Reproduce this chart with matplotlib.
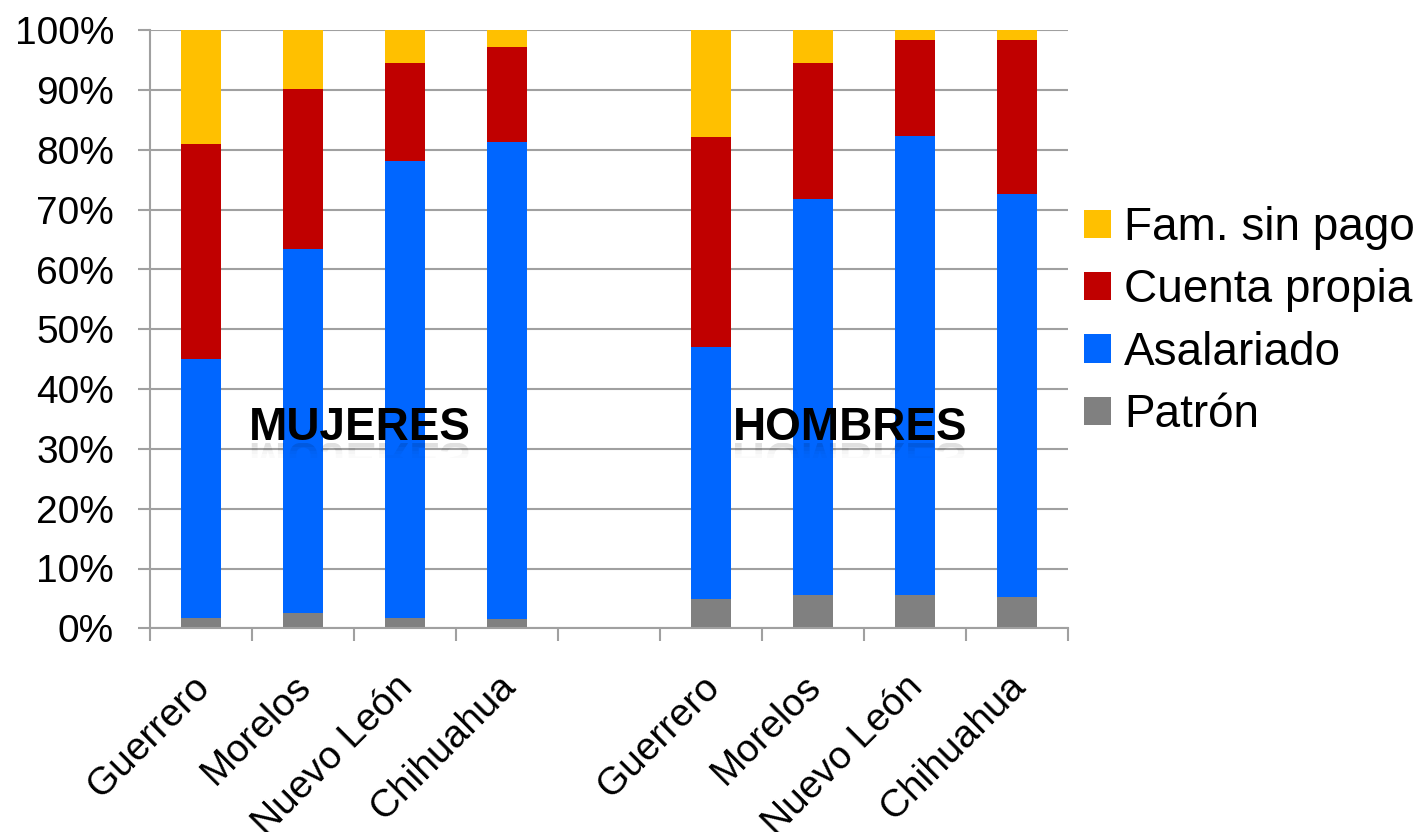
import matplotlib
matplotlib.use("Agg")
import matplotlib.pyplot as plt
import numpy as np
from matplotlib.textpath import TextPath
from matplotlib.font_manager import FontProperties
from matplotlib.patches import PathPatch, Rectangle
from matplotlib.transforms import Affine2D, ScaledTranslation

# categories: four states for women, an empty slot, four states for men
estados = ["Guerrero", "Morelos", "Nuevo León", "Chihuahua"]
etiquetas = estados + [""] + estados

# percentage shares per state (women first, then men)
patron_m = [1.8, 2.5, 1.8, 1.5]
asalariado_m = [43.2, 61.0, 76.4, 79.9]
cuenta_m = [36.0, 26.7, 16.3, 15.8]
fam_m = [19.0, 9.8, 5.5, 2.8]

patron_h = [4.9, 5.6, 5.5, 5.2]
asalariado_h = [42.2, 66.2, 76.9, 67.4]
cuenta_h = [35.1, 22.7, 16.0, 25.7]
fam_h = [17.8, 5.5, 1.6, 1.7]

series = [
    ("Patrón", patron_m, patron_h, "#808080"),
    ("Asalariado", asalariado_m, asalariado_h, "#0066FF"),
    ("Cuenta propia", cuenta_m, cuenta_h, "#C00000"),
    ("Fam. sin pago", fam_m, fam_h, "#FFC000"),
]

plt.rcParams['font.family'] = ['Liberation Sans', 'DejaVu Sans']

DPI = 100
fig = plt.figure(figsize=(14.22, 8.32), dpi=DPI)
ax = fig.add_axes([150 / 1422, 1 - 628.3 / 832, (1068 - 150) / 1422, (628.3 - 30.3) / 832])

x_m = np.arange(4)
x_h = np.arange(5, 9)
bottom_m = np.zeros(4)
bottom_h = np.zeros(4)
handles = []
for nombre, vm, vh, color in series:
    b = ax.bar(x_m, vm, 0.4, bottom=bottom_m, color=color, label=nombre, zorder=3)
    ax.bar(x_h, vh, 0.4, bottom=bottom_h, color=color, zorder=3)
    bottom_m += np.array(vm)
    bottom_h += np.array(vh)
    handles.append(b)

ax.set_xlim(-0.5, 8.5)
ax.set_ylim(0, 100)
ax.set_yticks(np.arange(0, 101, 10))
ax.set_yticklabels([f"{v}%" for v in range(0, 101, 10)], fontsize=28)
ax.yaxis.grid(True, color="#a0a0a0", lw=1.5, zorder=0)

ax.set_xticks(np.arange(9))
ax.set_xticklabels(etiquetas, fontsize=28, rotation=45, ha="right", rotation_mode="anchor")
ax.set_xticks(np.arange(-0.5, 9, 1), minor=True)
ax.tick_params(axis="x", which="major", length=0, pad=29)
ax.tick_params(axis="x", which="minor", length=9, width=1.5, color="#a0a0a0")
ax.tick_params(axis="y", length=9, width=1.5, color="#a0a0a0", pad=17)

# nudge the slanted state names a little to the left
shift = ScaledTranslation(-0.1, 0, fig.dpi_scale_trans)
for lab in ax.get_xticklabels():
    lab.set_transform(lab.get_transform() + shift)

for s in ["top", "right"]:
    ax.spines[s].set_visible(False)
for s in ["left", "bottom"]:
    ax.spines[s].set_color("#a0a0a0")
    ax.spines[s].set_linewidth(1.5)
ax.spines["left"].set_zorder(4)
ax.spines["bottom"].set_zorder(4)

ax.legend(handles[::-1], [h.get_label() for h in handles[::-1]],
          loc="center left", bbox_to_anchor=(0.998, 0.513), frameon=False,
          fontsize=33, handlelength=0.57, handleheight=0.57,
          handletextpad=0.3, labelspacing=0.4, borderaxespad=0)

# group titles with a faded mirror image underneath
fp = FontProperties(family="Liberation Sans", weight="bold", size=33)
for texto, xc in [("MUJERES", 1.56), ("HOMBRES", 6.36)]:
    ax.text(xc, 31.5, texto, fontproperties=fp, ha="center", va="baseline",
            color="black", zorder=6)
    xd, yd = ax.transData.transform((xc, 31.5))
    tp = TextPath((0, 0), texto, prop=fp)
    ext = tp.get_extents()
    k = DPI / 72
    tr = Affine2D().translate(-(ext.x0 + ext.x1) / 2, 0).scale(k, -k).translate(xd, yd - 3)
    h_px = ext.y1 * k
    for i, a in enumerate([0.12, 0.07, 0.04, 0.02]):
        patch = PathPatch(tp, transform=tr, facecolor="black", edgecolor="none",
                          alpha=a, zorder=5)
        clip = Rectangle((0, yd - 3 - h_px * 0.12 * (i + 1)), fig.bbox.width, h_px * 0.12,
                         transform=None)
        patch.set_clip_path(clip)
        fig.add_artist(patch)

fig.savefig("out.png", dpi=DPI)
